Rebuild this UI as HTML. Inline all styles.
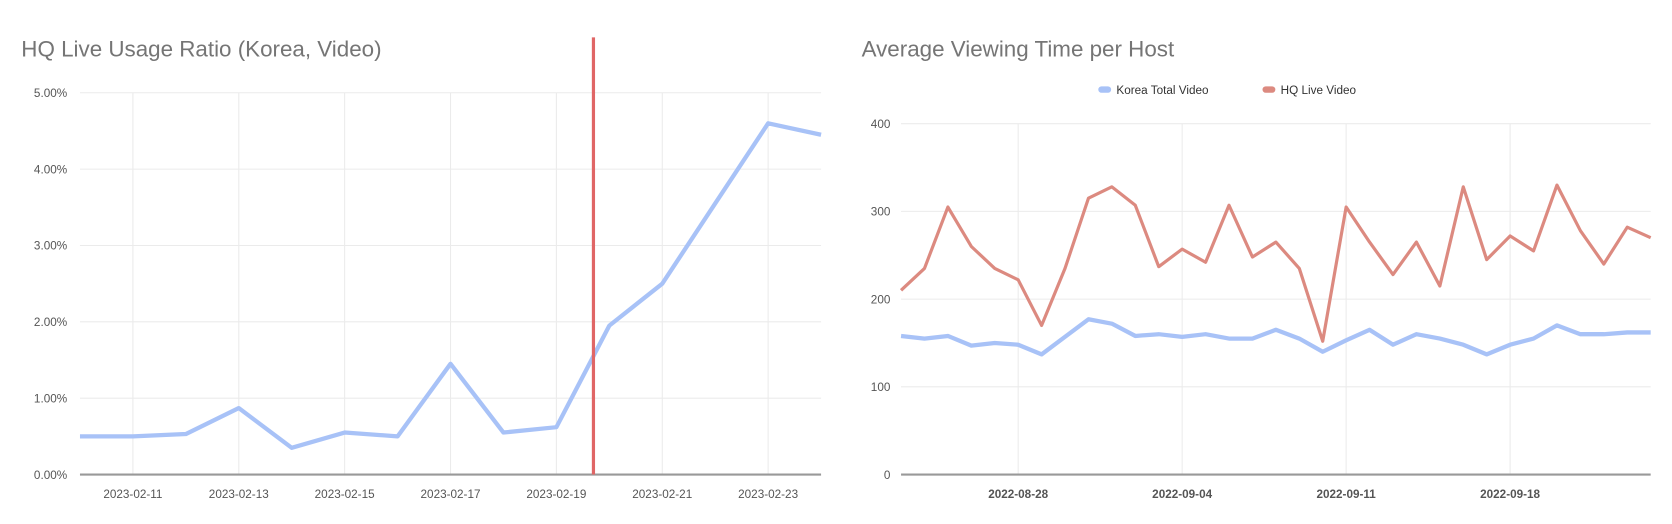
<!DOCTYPE html>
<html><head><meta charset="utf-8"><style>
html,body{margin:0;padding:0;background:#fff;}
svg{display:block;font-family:"Liberation Sans",Arial,sans-serif;}
</style></head><body>
<svg id="c" width="1672" height="524" viewBox="0 0 1568 491.4" preserveAspectRatio="none" xmlns="http://www.w3.org/2000/svg">
<rect width="1568" height="491.4" fill="#fff"/>
<text x="20" y="53" font-size="21" fill="#757575">HQ Live Usage Ratio (Korea, Video)</text>
<text x="808" y="53" font-size="21" fill="#757575">Average Viewing Time per Host</text>
<g id="left"></g><g id="right"></g>
</svg>
<script>
// Left chart data
const leftDates = ['2023-02-10','2023-02-11','2023-02-12','2023-02-13','2023-02-14','2023-02-15','2023-02-16','2023-02-17','2023-02-18','2023-02-19','2023-02-20','2023-02-21','2023-02-22','2023-02-23','2023-02-24'];
const leftValues = [0.50,0.50,0.53,0.87,0.35,0.55,0.50,1.45,0.55,0.62,1.95,2.50,3.55,4.60,4.45];
const leftYTicks = [0,1,2,3,4,5];
const leftXLabels = ['2023-02-11','2023-02-13','2023-02-15','2023-02-17','2023-02-19','2023-02-21','2023-02-23'];
const markerIndex = 9.7;

// Right chart data
const rightKorea = [158,155,158,147,150,148,137,157,177,172,158,160,157,160,155,155,165,155,140,153,165,148,160,155,148,137,148,155,170,160,160,162,162];
const rightHQ = [210,235,305,260,235,222,170,235,315,328,307,237,257,242,307,248,265,235,152,305,265,228,265,215,328,245,272,255,330,278,240,282,270];
const rightYTicks = [0,100,200,300,400];
const rightXLabels = ['2022-08-28','2022-09-04','2022-09-11','2022-09-18'];
const rightXLabelIdx = [5,12,19,26];

const NS='http://www.w3.org/2000/svg';
function mk(parent,tag,attrs,txt){const e=document.createElementNS(NS,tag);for(const k in attrs)e.setAttribute(k,attrs[k]);if(txt!==undefined)e.textContent=txt;parent.appendChild(e);return e;}

// LEFT
(function(){
  const g=document.getElementById('left');
  const x0=75,x1=770,yTop=87,yBot=445;
  const xs=i=>x0+(x1-x0)*i/(leftDates.length-1);
  const ys=v=>yBot-(yBot-yTop)*v/5;
  leftXLabels.forEach(l=>{const i=leftDates.indexOf(l);
    const ln=mk(g,'line',{x1:xs(i),x2:xs(i),y1:yTop,y2:yBot,stroke:'#ebebeb','stroke-width':1});
    
    
    const t=mk(g,'text',{x:xs(i),y:467,'font-size':11,fill:'#555','text-anchor':'middle'},l);
    
    
  });
  leftYTicks.forEach(v=>{
    const ln=mk(g,'line',{x1:x0,x2:x1,y1:ys(v),y2:ys(v),stroke:v===0?'#999':'#ebebeb','stroke-width':v===0?2:1});
    
    
    const t=mk(g,'text',{x:63,y:ys(v)+4,'font-size':11,fill:'#555','text-anchor':'end'},v.toFixed(2)+'%');
    
    
  });
  const p=mk(g,'polyline',{points:leftValues.map((v,i)=>xs(i)+','+ys(v)).join(' '),fill:'none',stroke:'#a8c2f7','stroke-width':4,'stroke-linejoin':'round'});
  
  
  const m=mk(g,'line',{x1:xs(markerIndex),x2:xs(markerIndex),y1:35,y2:yBot,stroke:'#e06666','stroke-width':3});
  
  
})();

// RIGHT
(function(){
  const g=document.getElementById('right');
  const x0=845,x1=1548,yTop=116,yBot=445;
  const n=rightHQ.length;
  const xs=i=>x0+(x1-x0)*i/(n-1);
  const ys=v=>yBot-(yBot-yTop)*v/400;
  rightXLabels.forEach((l,k)=>{const i=rightXLabelIdx[k];
    const ln=mk(g,'line',{x1:xs(i),x2:xs(i),y1:yTop,y2:yBot,stroke:'#ebebeb','stroke-width':1});
    
    
    const t=mk(g,'text',{x:xs(i),y:467,'font-size':11,'font-weight':'bold',fill:'#555','text-anchor':'middle'},l);
    
    
  });
  rightYTicks.forEach(v=>{
    const ln=mk(g,'line',{x1:x0,x2:x1,y1:ys(v),y2:ys(v),stroke:v===0?'#999':'#ebebeb','stroke-width':v===0?2:1});
    
    
    const t=mk(g,'text',{x:835,y:ys(v)+4,'font-size':11,fill:'#555','text-anchor':'end'},String(v));
    
    
  });
  const pk=mk(g,'polyline',{points:rightKorea.map((v,i)=>xs(i)+','+ys(v)).join(' '),fill:'none',stroke:'#a8c2f7','stroke-width':4,'stroke-linejoin':'round'});
  
  
  const ph=mk(g,'polyline',{points:rightHQ.map((v,i)=>xs(i)+','+ys(v)).join(' '),fill:'none',stroke:'#dc8a80','stroke-width':3,'stroke-linejoin':'round'});
  
  
  // legend
  const l1=mk(g,'rect',{x:1030,y:81,width:12,height:6,rx:3,fill:'#a8c2f7'});
  
  
  const t1=mk(g,'text',{x:1047,y:88,'font-size':11,fill:'#333'},'Korea Total Video');
  
  
  const l2=mk(g,'rect',{x:1184,y:81,width:12,height:6,rx:3,fill:'#dc8a80'});
  
  
  const t2=mk(g,'text',{x:1201,y:88,'font-size':11,fill:'#333'},'HQ Live Video');
  
  
})();
</script>
</body></html>
